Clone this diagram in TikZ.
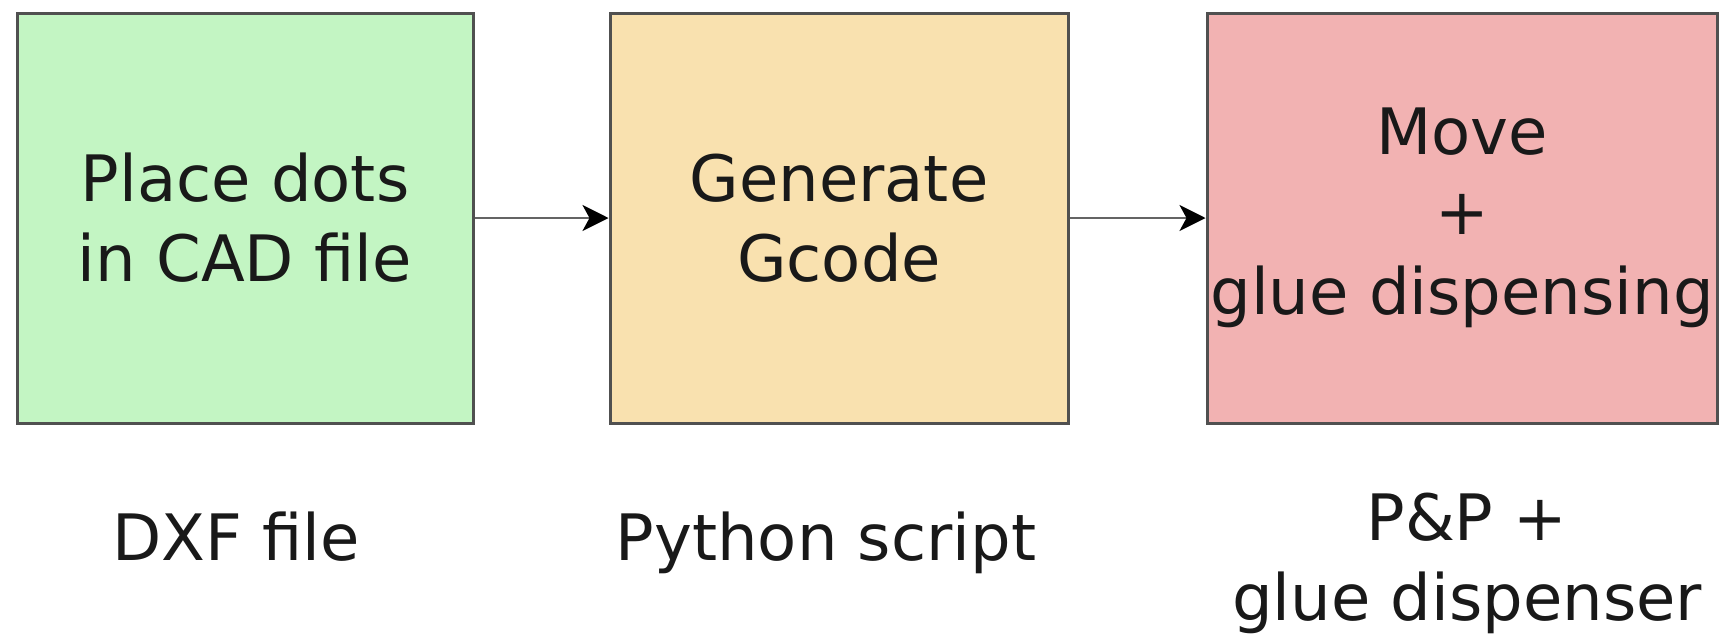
\documentclass[tikz,border=0pt]{standalone}
\usepackage{fontspec}
\setmainfont{DejaVu Sans}
\usetikzlibrary{arrows.meta}
\definecolor{boxgreen}{RGB}{195,245,195}
\definecolor{boxorange}{RGB}{249,225,175}
\definecolor{boxpink}{RGB}{242,178,178}
\definecolor{edgegray}{RGB}{80,80,80}
\definecolor{linegray}{RGB}{100,100,100}
\definecolor{textdark}{RGB}{25,25,25}
\tikzset{
  stepbox/.style={draw=edgegray, line width=3pt, inner sep=0pt, align=center,
    text=textdark, font=\fontsize{64}{80}\selectfont},
  caption/.style={inner sep=0pt, align=center, text=textdark, font=\fontsize{64}{80}\selectfont},
  flow/.style={draw=linegray, line width=2.5pt, -{Stealth[length=26pt,width=26pt,inset=7pt,color=black]}}
}
\begin{document}
\begin{tikzpicture}[x=1pt,y=-1pt]
\useasboundingbox (0,0) rectangle (1723,638);
\node[stepbox, fill=boxgreen, minimum width=456pt, minimum height=410pt] (b1) at (245,218) {Place dots\\in CAD file};
\node[stepbox, fill=boxorange, minimum width=458pt, minimum height=410pt] (b2) at (839,218) {Generate\\Gcode};
\node[stepbox, fill=boxpink, minimum width=510pt, minimum height=410pt] (b3) at (1462,218) {Move\\+\\glue dispensing};
\draw[flow] (b1.east) -- (b2.west);
\draw[flow] (b2.east) -- (b3.west);
\node[caption, anchor=base] (l1) at (236,560) {DXF file};
\node[caption, anchor=base] (l2) at (826,560) {Python script};
\node[caption, anchor=center] (l3) at (1467,563) {P\&P +\\glue dispenser};
\end{tikzpicture}
\end{document}
